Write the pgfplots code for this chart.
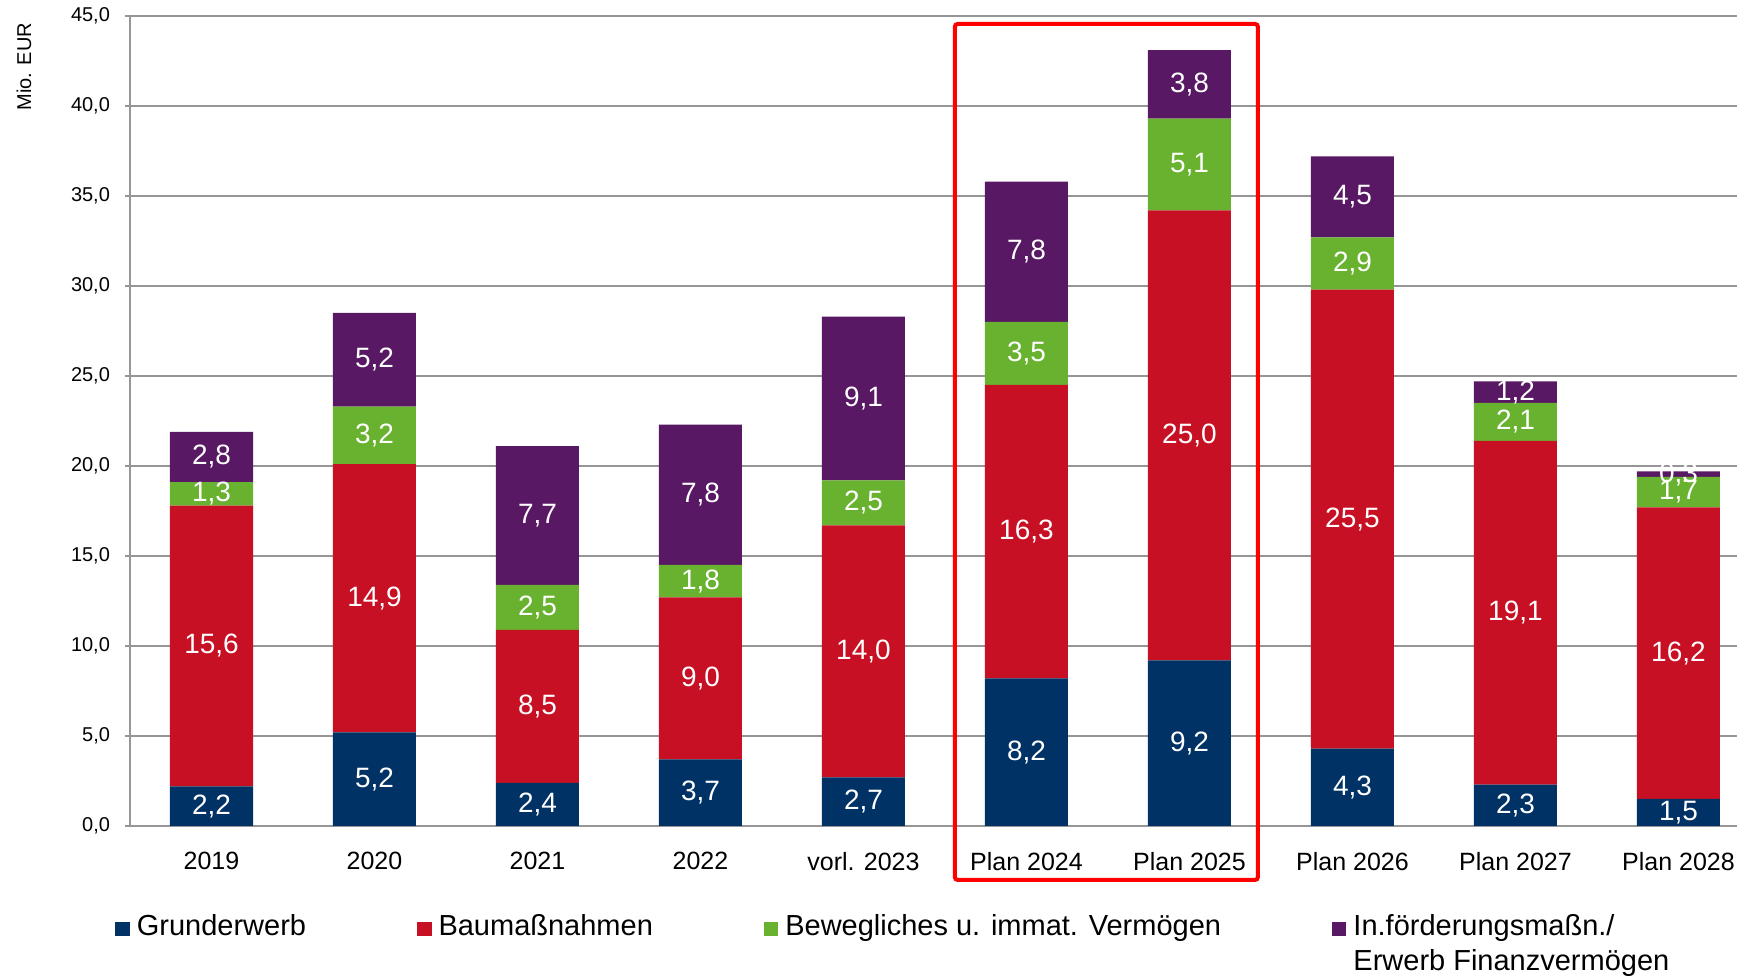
\documentclass[border=0pt]{standalone}
\usepackage{fontspec}
\setmainfont{Liberation Sans}
\usepackage{pgfplots}
\usepackage{pgfplotstable}
\pgfplotsset{compat=1.18}
\definecolor{cgrund}{RGB}{0,50,102}
\definecolor{cbau}{RGB}{200,16,36}
\definecolor{cbeweg}{RGB}{104,178,47}
\definecolor{cfoerd}{RGB}{88,24,100}
\definecolor{cgrid}{RGB}{150,150,150}

\pgfplotstableread{
x g b m f
0 2.2 15.6 1.3 2.8
1 5.2 14.9 3.2 5.2
2 2.4 8.5 2.5 7.7
3 3.7 9.0 1.8 7.8
4 2.7 14.0 2.5 9.1
5 8.2 16.3 3.5 7.8
6 9.2 25.0 5.1 3.8
7 4.3 25.5 2.9 4.5
8 2.3 19.1 2.1 1.2
9 1.5 16.2 1.7 0.3
}\datatable

\begin{document}
\begin{tikzpicture}
\begin{axis}[at={(65pt,76pt)},anchor=south west,
  scale only axis,width=803.5pt,height=405pt,
  ybar stacked,bar width=41.5pt,
  xmin=-0.5,xmax=9.359,ymin=0,ymax=45,
  xtick=data,
  xticklabels={2019,2020,2021,2022,vorl. 2023,Plan 2024,Plan 2025,Plan 2026,Plan 2027,Plan 2028},
  ytick={0,5,...,45},
  axis x line*=bottom,axis y line*=left,
  axis line style={cgrid,line width=0.75pt},
  xtick style={draw=none},
  ytick style={cgrid,line width=0.75pt},
  tick align=outside,major tick length=2.5pt,
  ymajorgrids,grid style={cgrid,line width=0.75pt},
  /pgf/number format/.cd,use comma,fixed,fixed zerofill,precision=1,assume math mode=true,
  /pgfplots/.cd,
  yticklabel style={font=\fontsize{10}{12}\selectfont,xshift=-4pt},
  xticklabel style={font=\fontsize{12.5}{15}\selectfont,yshift=-7pt},
  ylabel={Mio. EUR},
  ylabel style={font=\fontsize{10}{12}\selectfont,at={(axis description cs:-0.066,1.0)},anchor=east,rotate=0},
  clip=false,
  point meta=explicit,
  nodes near coords,
  nodes near coords align={center},
  every node near coord/.append style={white,font=\fontsize{14}{16}\selectfont,anchor=center},
  legend columns=4,
  legend cell align=left,
  legend image code/.code={\fill[#1] (0pt,0pt) rectangle (7.2pt,7.2pt);},
  legend style={draw=none,fill=none,inner sep=0pt,
    font=\fontsize{14.5}{17.5}\selectfont,
    at={(axis description cs:-0.0093,-0.105)},anchor=north west,
    /tikz/every even column/.append style={column sep=52pt},
    nodes={inner xsep=3.5pt,inner ysep=0pt,anchor=base west}},
]
\addplot[fill=cgrund,draw=none] table[x=x,y=g,meta=g]{\datatable};
\addlegendentry{Grunderwerb}
\addplot[fill=cbau,draw=none] table[x=x,y=b,meta=b]{\datatable};
\addlegendentry{Baumaßnahmen}
\addplot[fill=cbeweg,draw=none] table[x=x,y=m,meta=m]{\datatable};
\addlegendentry{Bewegliches u. immat. Vermögen}
\addplot[fill=cfoerd,draw=none] table[x=x,y=f,meta=f]{\datatable};
\addlegendentry{\begin{tabular}[t]{@{}l@{}}In.förderungsmaßn./\\Erwerb Finanzvermögen\end{tabular}}
\draw[red,line width=2pt,rounded corners=1.5pt] (axis cs:4.56,-3.0) rectangle (axis cs:6.42,44.56);
\end{axis}
\pgfresetboundingbox
\useasboundingbox (0,0) rectangle (868.5pt,489pt);
\end{tikzpicture}
\end{document}
